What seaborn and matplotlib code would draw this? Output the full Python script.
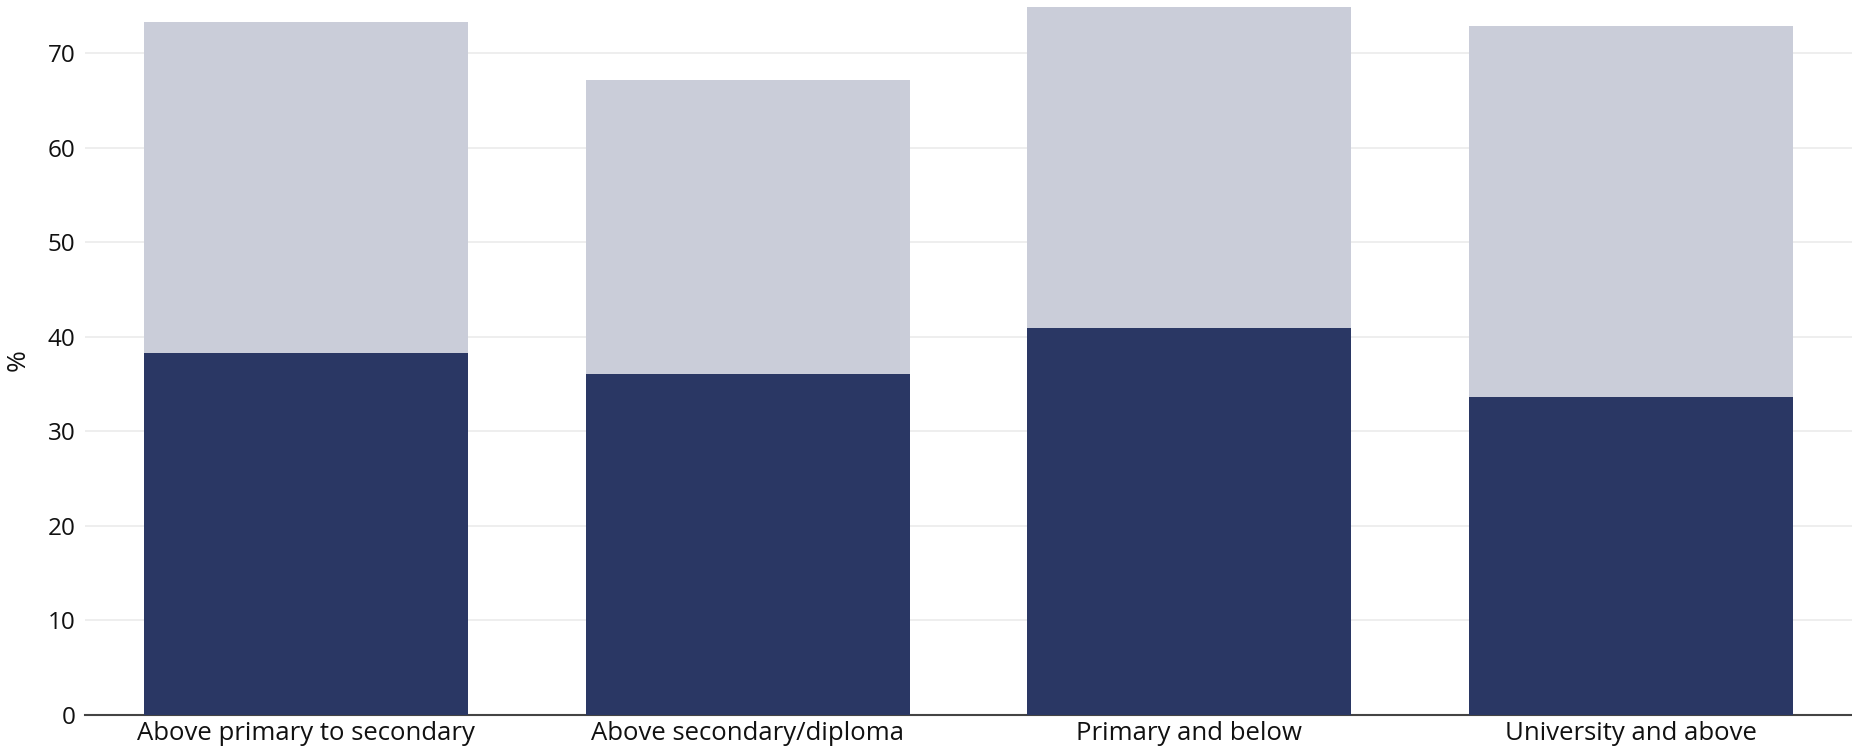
import matplotlib
matplotlib.use("Agg")
import matplotlib.pyplot as plt
import seaborn as sns
import pandas as pd

categories = ["Above primary to secondary", "Above secondary/diploma", "Primary and below", "University and above"]
total_values = [73.3, 67.2, 74.9, 72.9]
dark_values = [38.3, 36.1, 40.9, 33.6]
y_ticks = [0, 10, 20, 30, 40, 50, 60, 70]

sns.set_theme(style="white")
plt.rcParams['font.family'] = ['Open Sans', 'DejaVu Sans']

df = pd.DataFrame({"category": categories, "total": total_values, "dark": dark_values})

fig = plt.figure(figsize=(18.52, 7.52), dpi=100)
ax = fig.add_axes([85 / 1852, 1 - 715 / 752, 1 - 85 / 1852, (715 - 6) / 752])

sns.barplot(data=df, x="category", y="total", color="#cacdd9", saturation=1, width=0.733,
            linewidth=0, ax=ax, zorder=2)
sns.barplot(data=df, x="category", y="dark", color="#2a3764", saturation=1, width=0.733,
            linewidth=0, ax=ax, zorder=3)

ax.set_xlim(-0.5, 3.5)
ax.set_ylim(0, 75)
ax.set_yticks(y_ticks)
ax.yaxis.grid(True, color="#ebebeb", linewidth=1.2, zorder=0)
ax.set_axisbelow(True)
for side in ["top", "right", "left"]:
    ax.spines[side].set_visible(False)
ax.spines["bottom"].set_color("#444444")
ax.spines["bottom"].set_linewidth(1.5)
ax.spines["bottom"].set_zorder(1)
ax.tick_params(axis="y", length=0, labelsize=17.5, colors="#111111", pad=7)
ax.tick_params(axis="x", length=0, labelsize=18.5, colors="#111111", pad=4)
ax.set_xlabel("")
ax.set_ylabel("%", fontsize=19, color="#111111", labelpad=12)

fig.savefig("out.png", dpi=100, facecolor="white")
